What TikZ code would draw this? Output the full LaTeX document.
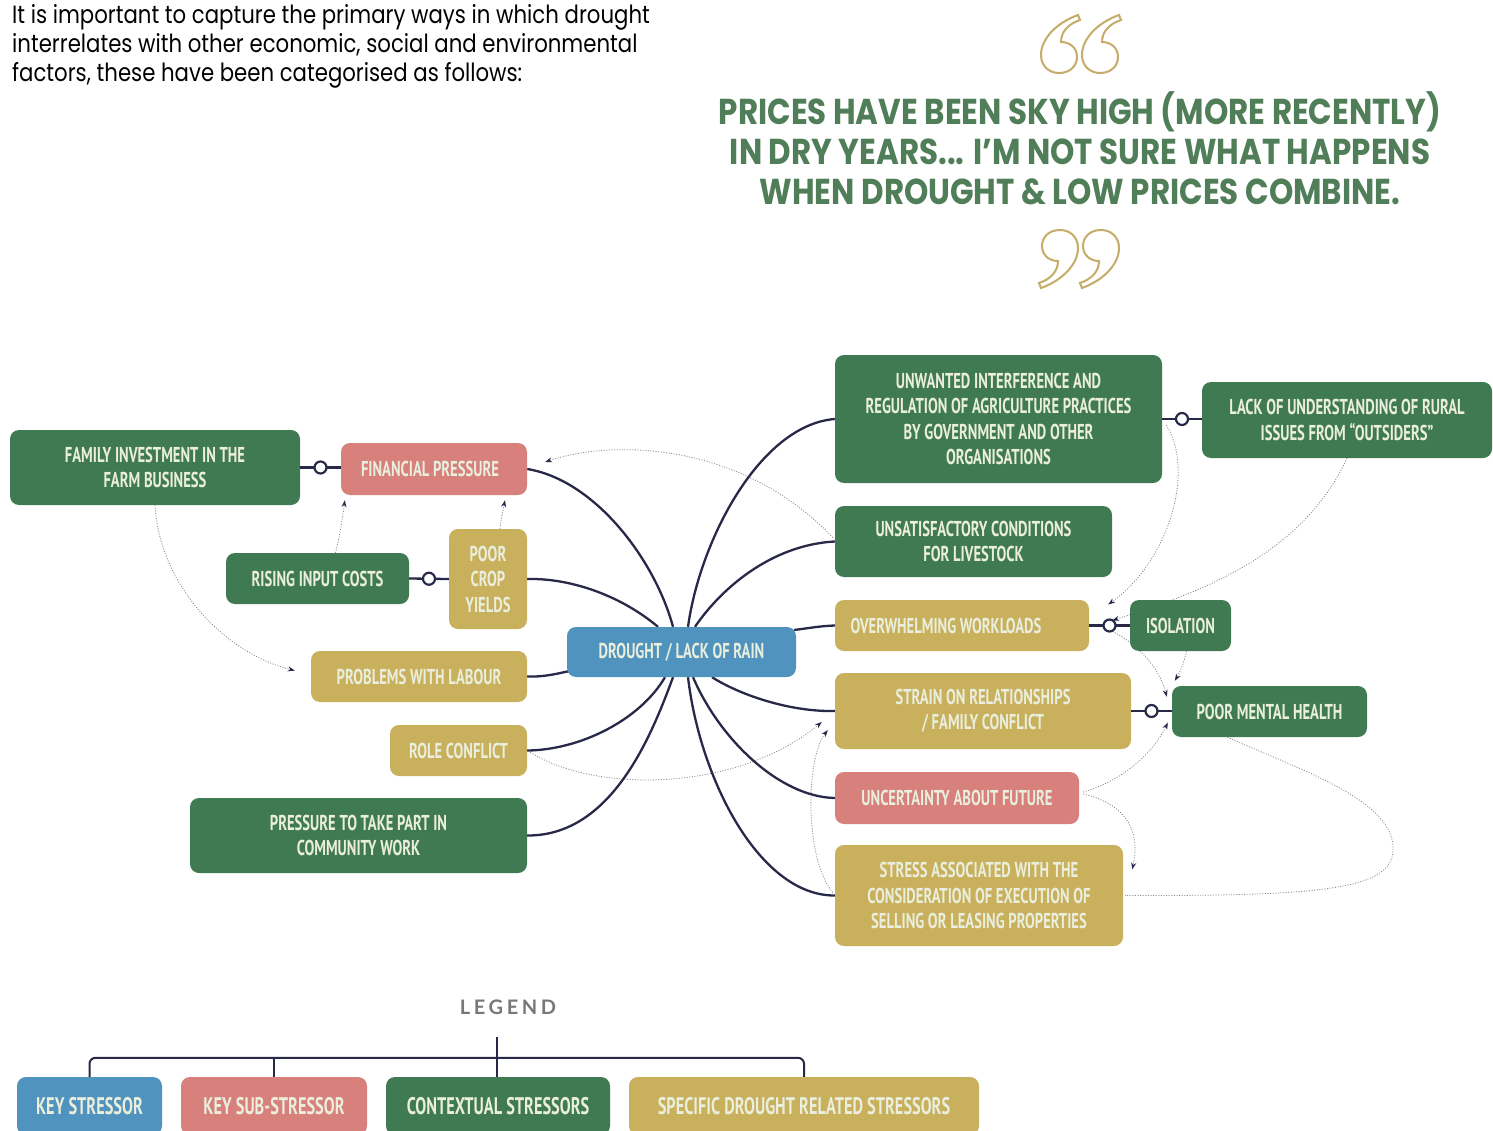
\documentclass[tikz,border=0pt]{standalone}
\usepackage{fontspec}
\setmainfont{Poppins}
\newfontfamily\introfont[FakeStretch=0.85]{Poppins}
\newfontfamily\quotefont[FakeStretch=0.86]{Poppins}
\newfontfamily\boxfont[FakeStretch=0.68]{PT Sans}
\newfontfamily\legfont[LetterSpace=18]{Lato}
\usetikzlibrary{arrows.meta,calc,backgrounds}
\definecolor{cgreen}{RGB}{64,122,82}
\definecolor{cpink}{RGB}{215,128,124}
\definecolor{cgold}{RGB}{200,176,92}
\definecolor{cblue}{RGB}{80,147,190}
\definecolor{cnavy}{RGB}{40,40,72}
\definecolor{ctext}{RGB}{234,238,220}
\definecolor{cquote}{RGB}{80,126,88}
\definecolor{cqmark}{RGB}{198,172,104}
\definecolor{cdot}{RGB}{135,135,145}
\definecolor{cleg}{RGB}{120,120,120}
\tikzset{
  box/.style={rounded corners=9pt, inner sep=0pt, align=center, text=ctext,
    font=\boxfont\bfseries\fontsize{21.5}{25.5}\selectfont},
  legbox/.style={box, font=\boxfont\bfseries\fontsize{24}{28}\selectfont, minimum height=58},
  link/.style={draw=cnavy, line width=2.3pt},
  ocirc/.style={circle, draw=cnavy, line width=2.2pt, fill=white, minimum size=12pt, inner sep=0pt},
  dotline/.style={draw=cdot, line width=0.8pt, dash pattern=on 1pt off 1.6pt},
  dotarr/.style={dotline, -{Stealth[length=7pt,width=5pt,color=cnavy]}},
  qmark/.pic={\draw[draw=cqmark, line width=2pt, fill=white]
     (38,0) .. controls (16,8) and (1,24) .. (1,40)
     .. controls (1,51) and (9,58) .. (19,58)
     .. controls (30,58) and (37,51) .. (37,42)
     .. controls (37,33) and (30,27) .. (21,27)
     .. controls (21,17) and (28,9) .. (40,5) -- cycle;}
}
\begin{document}
\begin{tikzpicture}[x=1pt,y=-1pt]
\useasboundingbox (0,0) rectangle (1493,1131);

% intro text
\node[anchor=north west, inner sep=0pt, align=left,
  font=\introfont\fontsize{25}{29}\selectfont] (intro) at (12,4)
  {It is important to capture the primary ways in which drought\\
   interrelates with other economic, social and environmental\\
   factors, these have been categorised as follows:};

% quote
\pic at (1040,15) {qmark};
\pic at (1081,15) {qmark};
\node[anchor=north, inner sep=0pt, align=center, text=cquote,
  font=\quotefont\bfseries\fontsize{36}{40}\selectfont] (quote) at (1080,91)
  {PRICES HAVE BEEN SKY HIGH (MORE RECENTLY)\\
   IN DRY YEARS... I’M NOT SURE WHAT HAPPENS\\
   WHEN DROUGHT \& LOW PRICES COMBINE.};
\pic[rotate=180] at (1079,288) {qmark};
\pic[rotate=180] at (1120,288) {qmark};

% nodes
\node[box, fill=cgreen, minimum width=290, minimum height=75] (family) at (155,467.5) {FAMILY INVESTMENT IN THE\\FARM BUSINESS};
\node[box, fill=cpink, minimum width=186, minimum height=52] (financial) at (434,469) {FINANCIAL PRESSURE\hspace*{8pt}};
\node[box, fill=cgreen, minimum width=183, minimum height=51] (rising) at (317.5,578.5) {RISING INPUT COSTS};
\node[box, fill=cgold, minimum width=78, minimum height=100] (poorcrop) at (488,579) {POOR\\CROP\\YIELDS};
\node[box, fill=cblue, minimum width=229, minimum height=50] (drought) at (681.5,652) {DROUGHT / LACK OF RAIN};
\node[box, fill=cgold, minimum width=216, minimum height=51] (labour) at (419,676.5) {PROBLEMS WITH LABOUR};
\node[box, fill=cgold, minimum width=137, minimum height=51] (role) at (458.5,750.5) {ROLE CONFLICT};
\node[box, fill=cgreen, minimum width=337, minimum height=75] (community) at (358.5,835.5) {PRESSURE TO TAKE PART IN\\COMMUNITY WORK};
\node[box, fill=cgreen, minimum width=327, minimum height=128] (unwanted) at (998.5,419) {UNWANTED INTERFERENCE AND\\REGULATION OF AGRICULTURE PRACTICES\\BY GOVERNMENT AND OTHER\\ORGANISATIONS};
\node[box, fill=cgreen, minimum width=290, minimum height=76] (lack) at (1347,420) {LACK OF UNDERSTANDING OF RURAL\\ISSUES FROM “OUTSIDERS”};
\node[box, fill=cgreen, minimum width=277, minimum height=71] (livestock) at (973.5,541.5) {UNSATISFACTORY CONDITIONS\\FOR LIVESTOCK};
\node[box, fill=cgold, minimum width=254, minimum height=51] (workloads) at (962,625.5) {OVERWHELMING WORKLOADS\hspace*{32pt}};
\node[box, fill=cgreen, minimum width=101, minimum height=51] (isolation) at (1180.5,625.5) {ISOLATION};
\node[box, fill=cgold, minimum width=296, minimum height=76] (strain) at (983,711) {STRAIN ON RELATIONSHIPS\\/ FAMILY CONFLICT};
\node[box, fill=cgreen, minimum width=195, minimum height=51] (mental) at (1269.5,711.5) {POOR MENTAL HEALTH};
\node[box, fill=cpink, minimum width=244, minimum height=52] (uncertainty) at (957,798) {UNCERTAINTY ABOUT FUTURE};
\node[box, fill=cgold, minimum width=288, minimum height=101] (stress) at (979,895.5) {STRESS ASSOCIATED WITH THE\\CONSIDERATION OF EXECUTION OF\\SELLING OR LEASING PROPERTIES};

\coordinate (c4) at ($(workloads.east)!0.5!(isolation.west)$);

\begin{scope}[on background layer]
\fill[white] (0,0) rectangle (1493,1131);
% dotted influences
\draw[dotarr] ($(livestock.west)+(-2,-4)$) .. controls (740,440) and (610,440) .. ($(financial.east)+(18,-7)$);
\draw[dotarr] ($(rising.north)+(18,0)$) .. controls (340,535) and (343,515) .. ($(financial.south west)+(4,5)$);
\draw[dotarr] ($(poorcrop.north)+(12,0)$) .. controls (501,518) and (503,510) .. ($(financial.south)+(71,5)$);
\draw[dotarr] (family.south) .. controls (160,590) and (230,655) .. ($(labour.west)+(-16,-6)$);
\draw[dotarr] ($(role.east)+(3,2)$) .. controls (600,795) and (740,790) .. ($(strain.west)+(-13,11)$);
\draw[dotarr] ($(stress.west)+(-2,-3)$) .. controls (805,860) and (805,760) .. ($(strain.west)+(-7,19)$);
\draw[dotarr] ($(unwanted.east)+(4,6)$) .. controls (1195,470) and (1170,560) .. ($(workloads.east)+(19,-21)$);
\draw[dotarr] (lack.south) .. controls (1300,560) and (1190,595) .. ($(workloads.east)+(23,-5)$);
\draw[dotarr] ($(c4)+(3,6)$) .. controls (1140,645) and (1160,670) .. ($(mental.north west)+(-5,11)$);
\draw[dotarr] ($(isolation.south)+(6,0)$) .. controls (1185,660) and (1180,672) .. ($(mental.north west)+(3,-5)$);
\draw[dotarr] ($(uncertainty.east)+(4,-6)$) .. controls (1125,780) and (1155,750) .. ($(mental.west)+(-4,11)$);
\draw[dotarr] ($(uncertainty.east)+(4,-4)$) .. controls (1130,805) and (1140,835) .. ($(stress.east)+(9,-26)$);
\draw[dotline] ($(mental.south)+(-42,0)$) .. controls (1300,770) and (1395,800) .. (1393,850)
   .. controls (1392,890) and (1320,896) .. ($(stress.east)+(2,0)$);

% solid links from drought
\draw[link] ($(drought.north)+(-8.5,0)$) .. controls (655,560) and (595,480) .. (financial.east);
\draw[link] ($(drought.north)+(-23.5,0)$) .. controls (620,595) and (570,578) .. (poorcrop.east);
\draw[link] ($(drought.north)+(6.5,0)$) .. controls (700,540) and (760,425) .. (unwanted.west);
\draw[link] ($(drought.north)+(13.5,0)$) .. controls (720,590) and (770,545) .. (livestock.west);
\draw[link] ($(drought.east)+(-2,-22)$) .. controls (810,628) and (820,626) .. (workloads.west);
\draw[link] ($(drought.west)+(3,19)$) .. controls (555,674) and (545,677) .. (labour.east);
\draw[link] ($(drought.south)+(-16.5,0)$) .. controls (640,720) and (580,750) .. (role.east);
\draw[link] ($(drought.south)+(-8.5,0)$) .. controls (650,740) and (610,836) .. (community.east);
\draw[link] ($(drought.south)+(6.5,0)$) .. controls (700,780) and (760,896) .. (stress.west);
\draw[link] ($(drought.south)+(11.5,0)$) .. controls (720,740) and (780,797) .. (uncertainty.west);
\draw[link] ($(drought.south)+(30.5,0)$) .. controls (740,695) and (790,712) .. (strain.west);
\end{scope}

% circle-joined pairs
\draw[link] (family.east) -- node[ocirc] (c1) {} (family.east -| financial.west);
\draw[link] (rising.east) -- node[ocirc] (c2) {} (poorcrop.west);
\draw[link] (unwanted.east) -- node[ocirc] (c3) {} (unwanted.east -| lack.west);
\draw[link] (workloads.east) -- node[ocirc] (c5) {} (isolation.west);
\draw[link] (strain.east) -- node[ocirc] (c6) {} (strain.east -| mental.west);

% legend
\node[font=\legfont\bfseries\fontsize{20}{20}\selectfont, text=cleg] (legend) at (508,1007) {LEGEND};
\node[legbox, fill=cblue, minimum width=145] (lkey) at (89.5,1106) {KEY STRESSOR};
\node[legbox, fill=cpink, minimum width=186] (lsub) at (274,1106) {KEY SUB-STRESSOR};
\node[legbox, fill=cgreen, minimum width=224] (lctx) at (498,1106) {CONTEXTUAL STRESSORS};
\node[legbox, fill=cgold, minimum width=350] (lspec) at (804,1106) {SPECIFIC DROUGHT RELATED STRESSORS};
\coordinate (legtop) at (497,1037);
\draw[draw=cnavy, line width=2pt, rounded corners=6pt] (lkey.north) -- ++(0,-19) -| (lspec.north);
\draw[draw=cnavy, line width=2pt] (lsub.north) -- ++(0,-19);
\draw[draw=cnavy, line width=2pt] (legtop) -- (legtop |- lctx.north);
\end{tikzpicture}
\end{document}
